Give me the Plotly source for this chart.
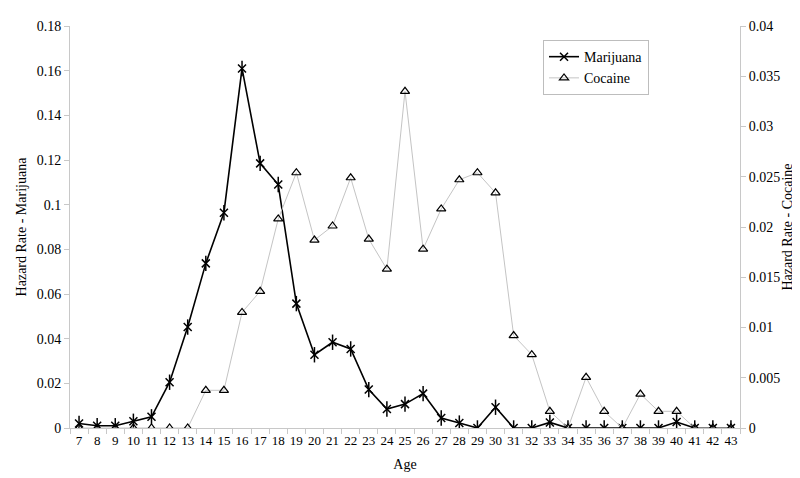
# Hazard rates by age: marijuana (left axis) vs cocaine (right axis)

import plotly.graph_objects as go

ages = [str(a) for a in range(7, 44)]

marijuana = [0.002, 0.001, 0.001, 0.003, 0.005, 0.0205, 0.0452, 0.0737, 0.0964, 0.161,
             0.1185, 0.109, 0.0557, 0.0328, 0.0384, 0.0354, 0.0172, 0.0085, 0.0107, 0.0154,
             0.0045, 0.0022, 0.0, 0.0093, 0.0, 0.0, 0.0025, 0.0, 0.0, 0.0,
             0.0, 0.0, 0.0, 0.0027, 0.0, 0.0, 0.0]

cocaine = [0.0, 0.0, 0.0, 0.0, 0.0, 0.0, 0.0, 0.00375, 0.00375, 0.0115,
           0.0136, 0.0208, 0.0254, 0.0187, 0.0201, 0.0249, 0.0188, 0.0158, 0.0335, 0.0178,
           0.0218, 0.0247, 0.0254, 0.0234, 0.0092, 0.0073, 0.00166, 0.0, 0.00504, 0.00166,
           0.0, 0.00338, 0.00166, 0.00166, 0.0, 0.0, 0.0]

serif = 'Times New Roman'
axis_grey = '#c8c8c8'


def f(size):
    return dict(family=serif, size=size, color='black')


fig = go.Figure()

# Кокаин - светло-серая линия с треугольниками (правая ось)
fig.add_trace(go.Scatter(
    name='Cocaine',
    x=ages,
    y=cocaine,
    yaxis='y2',
    mode='lines+markers',
    line=dict(color='#c4c4c4', width=1),
    marker=dict(symbol='triangle-up-open', size=8, color='black',
                line=dict(width=1.2, color='black'))
))

# Марихуана - чёрная линия со звёздочками
fig.add_trace(go.Scatter(
    name='Marijuana',
    x=ages,
    y=marijuana,
    mode='lines+markers',
    line=dict(color='black', width=1.6),
    marker=dict(symbol='x-thin-open', size=8, color='black',
                line=dict(width=1.5, color='black'))
))
fig.add_trace(go.Scatter(
    x=ages,
    y=marijuana,
    mode='markers',
    showlegend=False,
    hoverinfo='skip',
    marker=dict(symbol='line-ns-open', size=11, color='black',
                line=dict(width=1.5, color='black'))
))

fig.update_layout(
    width=800,
    height=478,
    margin=dict(l=62, r=68, t=18, b=58),
    paper_bgcolor='white',
    plot_bgcolor='white',
    font=f(13),
    xaxis=dict(
        type='category',
        range=[-0.5, 36.5],
        title=dict(text='Age', font=f(14), standoff=12),
        showline=True, linecolor=axis_grey, linewidth=1,
        ticks='outside', tickson='boundaries', ticklen=5, tickcolor=axis_grey,
        showgrid=False, zeroline=False,
        tickangle=0,
        tickfont=f(13),
        automargin=False
    ),
    yaxis=dict(
        range=[0, 0.18],
        dtick=0.02,
        title=dict(text='Hazard Rate - Marijuana', font=f(14), standoff=6),
        showline=True, linecolor=axis_grey, linewidth=1,
        ticks='outside', ticklen=5, tickcolor=axis_grey,
        showgrid=False, zeroline=False,
        tickfont=f(14),
        automargin=False
    ),
    yaxis2=dict(
        range=[0, 0.04],
        dtick=0.005,
        overlaying='y',
        side='right',
        title=dict(text='Hazard Rate - Cocaine', font=f(14), standoff=2),
        showline=True, linecolor=axis_grey, linewidth=1,
        ticks='outside', ticklen=5, tickcolor=axis_grey,
        showgrid=False, zeroline=False,
        tickfont=f(14),
        automargin=False
    ),
    legend=dict(
        x=0.706, y=0.965, xanchor='left', yanchor='top',
        bordercolor='#bdbdbd', borderwidth=1,
        bgcolor='white',
        font=f(14),
        traceorder='reversed',
        itemwidth=30
    ),
    showlegend=True
)

fig.write_html("out.html")
